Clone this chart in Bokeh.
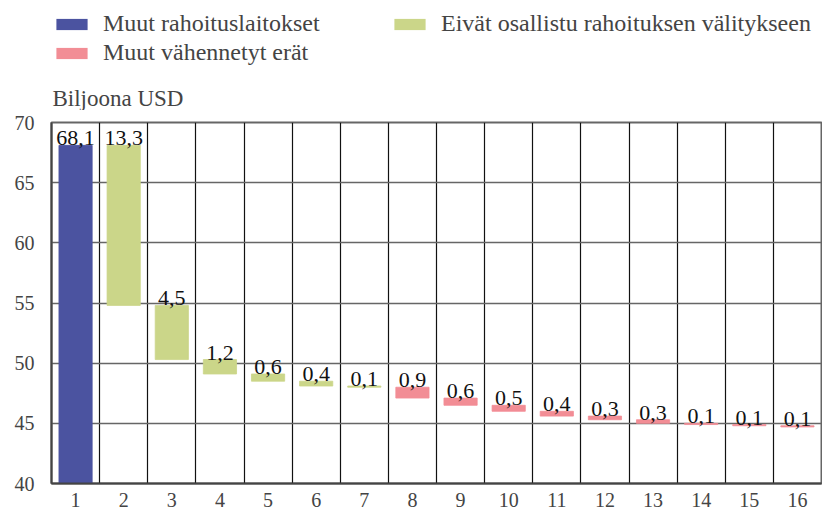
from bokeh.plotting import figure
from bokeh.layouts import column
from bokeh.models import (FixedTicker, Legend, LegendItem, Label, ColumnDataSource)
from bokeh.core.properties import value
from bokeh.embed import file_html
from bokeh.resources import INLINE

# ---- data ----
categories = [str(i) for i in range(1, 17)]
amounts = [68.1, 13.3, 4.5, 1.2, 0.6, 0.4, 0.1, 0.9, 0.6, 0.5, 0.4, 0.3, 0.3, 0.1, 0.1, 0.1]
value_labels = ["68,1", "13,3", "4,5", "1,2", "0,6", "0,4", "0,1", "0,9",
                "0,6", "0,5", "0,4", "0,3", "0,3", "0,1", "0,1", "0,1"]
kinds = ["total", "green", "green", "green", "green", "green", "green",
         "pink", "pink", "pink", "pink", "pink", "pink", "pink", "pink", "pink"]
series_names = {
    "total": "Muut rahoituslaitokset",
    "green": "Eivät osallistu rahoituksen välitykseen",
    "pink": "Muut vähennetyt erät",
}
series_colors = {"total": "#4B53A0", "green": "#CBD689", "pink": "#F28D95"}
y_ticks = [40, 45, 50, 55, 60, 65, 70]
y_unit = "Biljoona USD"

# ---- waterfall geometry from the values ----
xs = list(range(1, len(categories) + 1))
tops, bottoms = [], []
running = 0.0
for amt, kind in zip(amounts, kinds):
    if kind == "total":
        tops.append(amt)
        bottoms.append(0.0)
        running = amt
    else:
        tops.append(running)
        running = round(running - amt, 4)
        bottoms.append(running)

FONT = "Liberation Serif"
W = 822
HEAD_H = 110

# ---------------- header (legend + unit) ----------------
head = figure(width=W, height=HEAD_H, x_range=(0, 1), y_range=(0, 1),
              output_backend="svg", toolbar_location=None,
              x_axis_type=None, y_axis_type=None,
              min_border_left=0, min_border_right=0, min_border_top=0,
              min_border_bottom=0)
head.title = None
head.outline_line_color = None
head.xgrid.visible = False
head.ygrid.visible = False
head.background_fill_color = "white"
head.border_fill_color = "white"

# zero-height bars that only serve as legend swatches
legend_renderers = {}
for kind in ["total", "green", "pink"]:
    legend_renderers[kind] = head.vbar(x=[0], top=[0], bottom=[0], width=0.0,
                                       fill_color=series_colors[kind], line_color=None)

def add_legend(kind, vx, vy):
    leg = Legend(items=[LegendItem(label=series_names[kind],
                                   renderers=[legend_renderers[kind]])],
                 location=(vx, vy), orientation="horizontal", padding=0, margin=0,
                 border_line_alpha=0, background_fill_alpha=0,
                 glyph_width=39, glyph_height=14, label_standoff=12,
                 spacing=0,
                 label_text_font=FONT, label_text_font_size="24px",
                 label_text_color="#444444", label_text_baseline="middle")
    head.add_layout(leg)

# head frame is aligned with the main frame (left edge at x=51)
add_legend("total", 1, 73)
add_legend("green", 339, 73)
add_legend("pink", 1, 44)

head.add_layout(Label(x=1, y=0, x_units="screen", y_units="screen", text=y_unit,
                      text_font=FONT, text_font_size="23px", text_color="#444444",
                      text_baseline="bottom"))

# ---------------- main chart ----------------
p = figure(width=W, height=515 - HEAD_H, x_range=(0.5, 16.5), y_range=(40, 70),
           output_backend="svg", toolbar_location=None,
           min_border_left=51, min_border_right=1, min_border_top=12,
           min_border_bottom=32)
p.title = None
p.background_fill_color = "white"
p.border_fill_color = "white"
p.outline_line_color = "#666666"
p.outline_line_width = 2

for kind in ["total", "green", "pink"]:
    idx = [i for i, k in enumerate(kinds) if k == kind]
    src = ColumnDataSource(dict(
        x=[xs[i] for i in idx],
        top=[tops[i] for i in idx],
        bottom=[bottoms[i] for i in idx],
    ))
    p.vbar(x="x", top="top", bottom="bottom", width=0.69, source=src,
           fill_color=series_colors[kind], line_color=series_colors[kind],
           line_width=0.8)

lab_src = ColumnDataSource(dict(x=xs, y=tops, text=value_labels))
p.text(x="x", y="y", text="text", source=lab_src, text_align="center",
       text_baseline="bottom", y_offset=0,
       text_font=value(FONT), text_font_size="22px", text_color="#111111")

# grids
p.ygrid.ticker = FixedTicker(ticks=y_ticks)
p.ygrid.grid_line_color = "#666666"
p.ygrid.grid_line_width = 1.5
p.xgrid.ticker = FixedTicker(ticks=[x + 0.5 for x in xs[:-1]])
p.xgrid.grid_line_color = "#111111"
p.xgrid.grid_line_width = 1.2

# axes
p.yaxis.ticker = FixedTicker(ticks=y_ticks)
p.xaxis.ticker = FixedTicker(ticks=xs)
p.xaxis.major_label_overrides = {x: c for x, c in zip(xs, categories)}
for ax in (p.xaxis[0], p.yaxis[0]):
    ax.major_tick_in = 0
    ax.major_tick_out = 0
    ax.minor_tick_in = 0
    ax.minor_tick_out = 0
    ax.axis_line_color = "#444444"
    ax.axis_line_width = 2
    ax.major_label_text_font = FONT
    ax.major_label_text_font_size = "20px"
    ax.major_label_text_color = "#444444"
p.yaxis.major_label_standoff = 17
p.xaxis.major_label_standoff = 9

layout = column(head, p, spacing=0)
open("out.html", "w").write(file_html(layout, INLINE))
